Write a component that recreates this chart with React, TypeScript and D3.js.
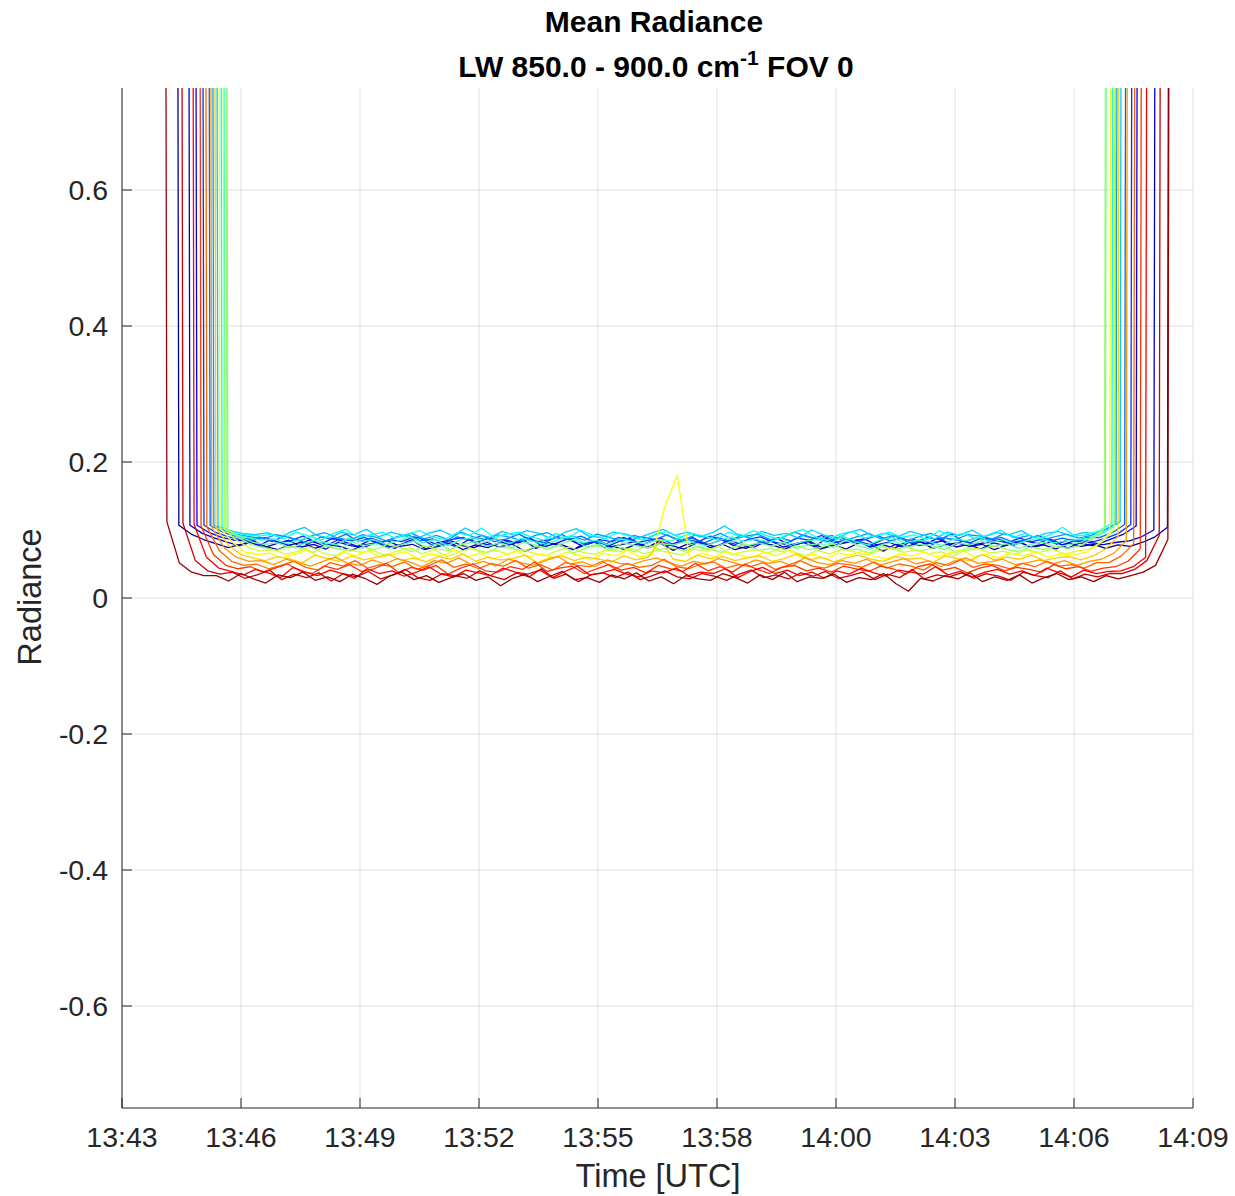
import React from 'react';
import * as d3 from 'd3';

// ---------- data ----------
const xTickLabels = ['13:43', '13:46', '13:49', '13:52', '13:55', '13:58', '14:00', '14:03', '14:06', '14:09'];
const yTickValues = [-0.6, -0.4, -0.2, 0, 0.2, 0.4, 0.6];
const spanMinutes = 26; // 13:43 -> 14:09
const sampleStep = 0.3; // minutes between samples
// time (minutes after 13:43) of the first sample of each series
const starts = [1.08, 1.35, 1.52, 1.69, 1.84, 1.93, 2.03, 2.13, 2.2, 2.27, 2.25, 2.18, 2.08, 1.98, 1.88, 1.76, 1.62, 1.45, 1.18, 0.79];

// radiance values in units of 0.001 (9000 = off scale)
const s0 = [9000, 107, 94, 86, 80,
  74, 79, 84, 76, 71, 78, 82, 73, 79, 76,
  70, 78, 81, 74, 79, 84, 72, 76, 81, 71,
  78, 74, 82, 79, 69, 76, 81, 78, 72, 79,
  84, 76, 72, 79, 74, 81, 70, 78, 83, 74,
  79, 71, 76, 81, 78, 72, 79, 84, 74, 78,
  72, 81, 78, 69, 79, 76, 83, 73, 78, 81,
  76, 79, 71, 78, 83, 74, 78, 72, 81, 76,
  79, 73, 78, 76,
  82, 90, 104, 9000];
const s1 = [9000, 107, 95, 88, 82,
  77, 82, 74, 80, 85, 75, 79, 72, 82, 77,
  74, 81, 84, 76, 79, 71, 81, 85, 77, 74,
  82, 75, 79, 85, 73, 81, 77, 71, 81, 84,
  75, 79, 83, 74, 84, 77, 72, 81, 79, 86,
  77, 73, 81, 84, 75, 79, 83, 72, 77, 81,
  85, 75, 79, 73, 83, 77, 81, 84, 75, 79,
  72, 81, 77, 83, 75, 79, 84, 73, 81, 77,
  79, 82,
  84, 90, 100, 9000];
const s2 = [9000, 107, 96, 89, 85,
  84, 77, 86, 80, 74, 85, 79, 88, 82, 76,
  85, 80, 73, 83, 89, 78, 82, 75, 86, 80,
  77, 85, 81, 88, 75, 80, 87, 78, 84, 74,
  82, 88, 78, 85, 76, 83, 90, 80, 75, 85,
  80, 74, 83, 87, 78, 82, 75, 89, 80, 84,
  87, 78, 82, 75, 86, 80, 88, 76, 84, 79,
  82, 86, 77, 84, 80, 87, 78, 84, 82, 80,
  87, 94, 106, 9000];
const s3 = [9000, 107, 96, 90, 86,
  85, 89, 81, 84, 91, 83, 78, 87, 84, 89,
  80, 86, 83, 90, 85, 77, 86, 89, 81, 88,
  85, 81, 89, 83, 86, 93, 83, 79, 86, 83,
  89, 81, 85, 88, 78, 86, 83, 91, 85, 79,
  86, 90, 83, 79, 88, 85, 92, 81, 86, 83,
  78, 86, 91, 83, 85, 79, 88, 85, 81, 89,
  85, 81, 88, 83, 87, 79, 86, 85, 83,
  88, 95, 108, 9000];
const s4 = [9000, 107, 97, 91, 87,
  89, 83, 91, 85, 80, 90, 86, 94, 83, 88,
  82, 89, 93, 84, 87, 80, 90, 85, 92, 83,
  87, 94, 84, 81, 89, 86, 91, 83, 79, 89,
  85, 90, 86, 93, 83, 88, 81, 89, 84, 92,
  86, 80, 89, 84, 93, 87, 83, 90, 81, 86,
  92, 84, 88, 81, 89, 86, 94, 83, 88, 85,
  89, 82, 86, 92, 84, 88, 83, 89,
  89, 96, 108, 9000];
const s5 = [9000, 107, 98, 93, 90,
  87, 93, 90, 84, 92, 96, 88, 85, 93, 90,
  84, 91, 95, 87, 92, 86, 97, 90, 86, 93,
  89, 84, 92, 96, 87, 91, 85, 94, 89, 83,
  92, 87, 96, 90, 84, 93, 88, 95, 86, 91,
  94, 86, 89, 97, 90, 87, 92, 84, 90, 95,
  87, 92, 84, 90, 95, 88, 86, 93, 91, 87,
  95, 88, 92, 85, 90, 94, 88,
  92, 99, 110, 9000];
const s6 = [9000, 106, 99, 95, 93,
  96, 89, 98, 104, 92, 88, 97, 93, 101, 90,
  97, 92, 86, 95, 100, 91, 103, 94, 89, 98,
  92, 99, 95, 87, 96, 102, 91, 89, 97, 94,
  88, 95, 101, 92, 97, 90, 96, 106, 94, 89,
  98, 92, 95, 88, 100, 93, 87, 96, 101, 91,
  95, 90, 98, 93, 87, 97, 92, 100, 90, 96,
  93, 99, 89, 95, 98, 91, 96,
  95, 101, 112, 9000];
const s7 = [9000, 104, 97, 93, 91,
  94, 87, 97, 91, 85, 95, 101, 89, 93, 97,
  88, 94, 99, 90, 86, 96, 92, 103, 89, 94,
  97, 90, 85, 95, 88, 100, 92, 87, 96, 91,
  85, 93, 98, 89, 95, 91, 86, 97, 90, 99,
  92, 87, 95, 101, 90, 85, 94, 98, 88, 92,
  97, 89, 93, 86, 99, 91, 95, 87, 93, 100,
  89, 95, 87, 93, 104, 91,
  93, 99, 110, 9000];
const s8 = [9000, 102, 93, 88, 85,
  87, 80, 85, 91, 82, 78, 88, 83, 86, 79,
  84, 90, 81, 86, 77, 85, 89, 82, 87, 80,
  88, 83, 79, 86, 92, 81, 85, 78, 87, 83,
  80, 86, 84, 89, 81, 77, 85, 90, 83, 87,
  82, 88, 79, 84, 86, 80, 91, 83, 78, 85,
  89, 81, 85, 83, 77, 87, 84, 90, 82, 86,
  79, 85, 88, 81, 84, 86,
  88, 95, 106, 9000];
const s9 = [9000, 101, 90, 82, 79,
  81, 74, 79, 85, 76, 72, 82, 77, 80, 73,
  78, 84, 75, 80, 71, 79, 83, 76, 81, 74,
  82, 77, 73, 80, 86, 75, 79, 72, 81, 77,
  74, 80, 78, 83, 75, 71, 79, 84, 77, 81,
  76, 82, 73, 78, 80, 74, 85, 77, 72, 79,
  83, 75, 79, 77, 71, 81, 78, 84, 76, 80,
  73, 79, 82, 75, 78,
  82, 90, 104, 9000];
const s10 = [9000, 101, 88, 78, 74,
  70, 76, 73, 67, 78, 72, 69, 75, 71, 79,
  74, 68, 77, 72, 70, 80, 71, 67, 75, 73,
  69, 76, 72, 78, 66, 73, 77, 70, 74, 68,
  78, 71, 74, 69, 76, 72, 67, 75, 79, 70,
  73, 68, 77, 71, 74, 80, 70, 72, 66, 76,
  71, 75, 69, 73, 78, 67, 74, 71, 77, 72,
  68, 75, 71, 76, 73,
  77, 86, 102, 9000];
const s11 = [9000, 102, 85, 74, 69,
  71, 64, 69, 75, 66, 62, 72, 67, 70, 63,
  69, 74, 65, 71, 61, 68, 73, 66, 70, 64,
  72, 66, 62, 70, 75, 67, 64, 71, 68, 73,
  65, 70, 67, 63, 72, 69, 76, 64, 68, 71,
  66, 73, 69, 62, 70, 65, 72, 68, 63, 70,
  74, 67, 71, 65, 68, 62, 70, 73, 66, 69,
  64, 71, 67, 72, 65, 69,
  72, 82, 100, 9000];
const s12 = [9000, 103, 82, 68, 64,
  66, 59, 64, 70, 61, 57, 67, 62, 69, 60,
  64, 68, 58, 65, 62, 71, 60, 66, 57, 63,
  69, 61, 65, 59, 67, 63, 56, 66, 62, 70,
  60, 64, 135, 180, 58, 66, 61, 68, 63, 59,
  67, 62, 70, 60, 64, 57, 66, 63, 69, 61,
  58, 65, 62, 68, 60, 66, 71, 61, 64, 59,
  66, 62, 68, 60, 65, 63,
  67, 78, 96, 9000];
const s13 = [9000, 103, 78, 64, 59,
  55, 61, 57, 52, 63, 58, 54, 62, 56, 60,
  64, 55, 59, 53, 61, 57, 65, 54, 60, 56,
  58, 63, 52, 59, 62, 55, 60, 57, 53, 62,
  56, 60, 86, 57, 54, 63, 58, 61, 55, 59,
  62, 54, 58, 65, 56, 60, 53, 59, 63, 57,
  54, 61, 57, 59, 52, 62, 58, 55, 64, 56,
  60, 57, 63, 55, 59, 61, 56,
  62, 72, 90, 9000];
const s14 = [9000, 104, 74, 60, 54,
  55, 49, 57, 52, 47, 54, 60, 51, 48, 56,
  50, 58, 53, 46, 55, 51, 59, 49, 54, 47,
  57, 52, 48, 55, 61, 50, 53, 46, 56, 51,
  49, 55, 59, 52, 47, 54, 50, 58, 53, 48,
  56, 51, 54, 47, 60, 52, 49, 55, 51, 57,
  48, 53, 58, 50, 55, 46, 54, 59, 51, 53,
  57, 49, 52, 56, 50, 55, 48, 54,
  57, 66, 84, 9000];
const s15 = [9000, 105, 70, 54, 48,
  50, 43, 48, 54, 45, 41, 52, 47, 55, 44,
  49, 46, 53, 42, 48, 56, 45, 50, 43, 51,
  47, 55, 44, 49, 41, 52, 48, 46, 54, 43,
  51, 45, 48, 57, 46, 43, 50, 53, 44, 49,
  46, 52, 42, 48, 55, 47, 44, 51, 49, 45,
  53, 44, 50, 47, 41, 52, 48, 56, 45, 50,
  48, 43, 51, 46, 54, 47, 49, 44, 52,
  52, 62, 80, 9000];
const s16 = [9000, 106, 64, 48, 43,
  46, 38, 44, 50, 40, 36, 47, 42, 49, 39,
  43, 51, 37, 45, 41, 48, 35, 44, 50, 40,
  38, 46, 42, 53, 39, 44, 47, 36, 43, 49,
  41, 45, 37, 48, 43, 39, 51, 40, 46, 38,
  50, 42, 36, 45, 48, 40, 44, 38, 47, 43,
  39, 47, 43, 35, 46, 50, 41, 45, 37, 44,
  48, 40, 45, 42, 38, 49, 43, 46, 39, 44,
  46, 54, 72, 9000];
const s17 = [9000, 108, 60, 44, 39,
  34, 42, 37, 30, 45, 38, 33, 41, 36, 29,
  43, 36, 40, 32, 38, 46, 35, 31, 41, 37,
  33, 44, 38, 35, 41, 30, 39, 47, 34, 37,
  42, 35, 31, 40, 37, 44, 33, 38, 36, 43,
  30, 39, 45, 36, 41, 33, 38, 29, 40, 35,
  44, 37, 32, 41, 38, 35, 46, 34, 39, 31,
  38, 42, 35, 40, 33, 44, 37, 31, 41, 36,
  39,
  40, 46, 60, 9000];
const s18 = [9000, 110, 55, 40, 35,
  38, 29, 34, 41, 27, 35, 30, 37, 25, 36,
  31, 39, 28, 34, 42, 30, 26, 36, 33, 29,
  40, 32, 27, 37, 31, 43, 29, 35, 24, 34,
  37, 30, 38, 27, 33, 40, 31, 28, 36, 32,
  26, 35, 41, 30, 34, 28, 37, 32, 39, 29,
  33, 38, 27, 35, 30, 42, 28, 34, 31, 37,
  29, 36, 32, 26, 38, 33, 30, 40, 28, 35,
  31, 36,
  36, 42, 55, 92, 9000];
const s19 = [9000, 112, 52, 38, 33,
  33, 25, 36, 28, 22, 34, 30, 38, 26, 31,
  24, 35, 29, 20, 32, 38, 27, 33, 23, 30,
  36, 26, 31, 18, 29, 35, 24, 32, 39, 27,
  30, 23, 34, 28, 37, 25, 31, 21, 33, 28,
  26, 36, 30, 22, 34, 27, 38, 24, 31, 29,
  35, 23, 30, 27, 36, 21, 10, 29, 25, 33,
  28, 37, 24, 31, 26, 34, 22, 30, 36, 27,
  31, 24, 33, 28,
  33, 38, 48, 86, 9000];

const seriesValues = [s0, s1, s2, s3, s4, s5, s6, s7, s8, s9, s10, s11, s12, s13, s14, s15, s16, s17, s18, s19];

// ---------- style ----------
const W = 1235;
const H = 1196;
const plot = { left: 122, right: 1193, top: 88, bottom: 1108 };
const FONT = '"Liberation Sans", Arial, Helvetica, sans-serif';
const AXIS = '#262626';
const GRID = '#dfdfdf';

function jet(t: number): string {
  const c = (v: number) => Math.max(0, Math.min(1, v));
  const r = c(Math.min(4 * t - 1.5, -4 * t + 4.5));
  const g = c(Math.min(4 * t - 0.5, -4 * t + 3.5));
  const b = c(Math.min(4 * t + 0.5, -4 * t + 2.5));
  return d3.rgb(r * 255, g * 255, b * 255).formatHex();
}

export default function App() {
  const x = d3.scaleLinear().domain([0, spanMinutes]).range([plot.left, plot.right]);
  const y = d3.scaleLinear().domain([-0.75, 0.75]).range([plot.bottom, plot.top]);
  const xTickVals = xTickLabels.map((_, i) => (i * spanMinutes) / (xTickLabels.length - 1));
  const line = d3
    .line<[number, number]>()
    .x((d) => x(d[0]))
    .y((d) => y(d[1]));
  const n = seriesValues.length;

  return (
    <svg
      width={W}
      height={H}
      style={{ position: 'absolute', left: 0, top: 0, background: '#fff' }}
      fontFamily={FONT}
    >
      <rect x={0} y={0} width={W} height={H} fill="#fff" />
      <defs>
        <clipPath id="plotclip">
          <rect x={plot.left} y={plot.top} width={plot.right - plot.left} height={plot.bottom - plot.top} />
        </clipPath>
      </defs>
      {/* grid */}
      {xTickVals.map((v, i) => (
        <line key={'gx' + i} x1={x(v)} x2={x(v)} y1={plot.top} y2={plot.bottom} stroke={GRID} strokeWidth={1} />
      ))}
      {yTickValues.map((v, i) => (
        <line key={'gy' + i} x1={plot.left} x2={plot.right} y1={y(v)} y2={y(v)} stroke={GRID} strokeWidth={1} />
      ))}
      {/* series */}
      <g clipPath="url(#plotclip)" fill="none" strokeWidth={1.3} strokeLinejoin="round">
        {seriesValues.map((vals, i) => {
          const pts: [number, number][] = vals.map((v, j) => [starts[i] + j * sampleStep, v / 1000]);
          return <path key={'s' + i} d={line(pts) || ''} stroke={jet((i + 0.5) / n)} />;
        })}
      </g>
      {/* axes */}
      <line x1={plot.left} x2={plot.left} y1={plot.top} y2={plot.bottom} stroke={AXIS} strokeWidth={1} />
      <line x1={plot.left} x2={plot.right} y1={plot.bottom} y2={plot.bottom} stroke={AXIS} strokeWidth={1} />
      {xTickVals.map((v, i) => (
        <g key={'xt' + i}>
          <line x1={x(v)} x2={x(v)} y1={plot.bottom} y2={plot.bottom - 10} stroke={AXIS} strokeWidth={1} />
          <text x={x(v)} y={1147} textAnchor="middle" fontSize={28.5} fill={AXIS}>
            {xTickLabels[i]}
          </text>
        </g>
      ))}
      {yTickValues.map((v, i) => (
        <g key={'yt' + i}>
          <line x1={plot.left} x2={plot.left + 10} y1={y(v)} y2={y(v)} stroke={AXIS} strokeWidth={1} />
          <text x={108} y={y(v)} dy="0.36em" textAnchor="end" fontSize={28.5} fill={AXIS}>
            {String(v)}
          </text>
        </g>
      ))}
      {/* labels */}
      <text x={658} y={1187} textAnchor="middle" fontSize={32.5} fill={AXIS}>
        Time [UTC]
      </text>
      <text transform="translate(41,597) rotate(-90)" textAnchor="middle" fontSize={32.5} fill={AXIS}>
        Radiance
      </text>
      {/* title */}
      <text x={654} y={32} textAnchor="middle" fontSize={30} fontWeight="bold" fill="#000">
        Mean Radiance
      </text>
      <text x={656} y={77} textAnchor="middle" fontSize={30} fontWeight="bold" fill="#000">
        LW 850.0 - 900.0 cm
        <tspan dy={-12} fontSize={21}>-1</tspan>
        <tspan dy={12}> FOV 0</tspan>
      </text>
    </svg>
  );
}
